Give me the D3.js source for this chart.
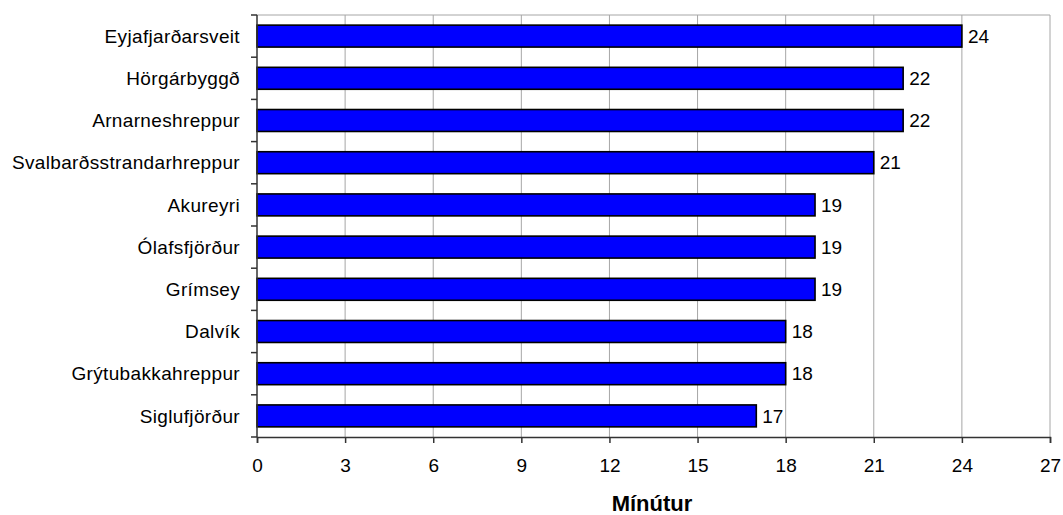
<!DOCTYPE html>
<html lang="is">
<head>
<meta charset="UTF-8">
<script src="https://d3js.org/d3.v7.min.js"></script>
<style>
  body { margin: 0; background: #fff; }
  svg { display: block; font-family: "Liberation Sans", Arial, sans-serif; }
</style>
</head>
<body>
<svg></svg>
<script>
const places = ["Eyjafjarðarsveit", "Hörgárbyggð", "Arnarneshreppur", "Svalbarðsstrandarhreppur",
                "Akureyri", "Ólafsfjörður", "Grímsey", "Dalvík", "Grýtubakkahreppur", "Siglufjörður"];
const minutes = [24, 22, 22, 21, 19, 19, 19, 18, 18, 17];
const xTicks = [0, 3, 6, 9, 12, 15, 18, 21, 24, 27];
const xTitle = "Mínútur";

const w = 1063, h = 515;
const plotL = 257, plotR = 1050, plotT = 15, plotB = 437;
const fontSize = "19px";

const svg = d3.select("svg").attr("width", w).attr("height", h);

const x = d3.scaleLinear().domain([0, 27]).range([plotL, plotR]);
const y = d3.scaleBand().domain(places).range([plotT, plotB]).paddingInner(0.48).paddingOuter(0.24);

// grid
svg.append("g")
   .selectAll("line")
   .data(xTicks.slice(1))
   .join("line")
   .attr("x1", d => x(d)).attr("x2", d => x(d))
   .attr("y1", plotT).attr("y2", plotB)
   .attr("stroke", "#a6a6a6").attr("stroke-width", 1);

// plot border top
svg.append("line")
   .attr("x1", plotL).attr("x2", plotR).attr("y1", plotT).attr("y2", plotT)
   .attr("stroke", "#a6a6a6");

// bars
svg.append("g")
   .selectAll("rect")
   .data(places)
   .join("rect")
   .attr("x", x(0))
   .attr("y", d => y(d))
   .attr("width", (d, i) => x(minutes[i]) - x(0))
   .attr("height", y.bandwidth())
   .attr("fill", "#0000ff")
   .attr("stroke", "#000")
   .attr("stroke-width", 1.6);

// value labels
svg.append("g")
   .selectAll("text")
   .data(places)
   .join("text")
   .attr("x", (d, i) => x(minutes[i]) + 6)
   .attr("y", d => y(d) + y.bandwidth() / 2)
   .attr("dy", "0.35em")
   .style("font-size", fontSize)
   .text((d, i) => minutes[i]);

// x axis
const xAxis = d3.axisBottom(x).tickValues(xTicks).tickSize(6).tickPadding(16);
const gx = svg.append("g")
   .attr("transform", "translate(0," + plotB + ")")
   .call(xAxis);
gx.select(".domain").attr("stroke", "#333").attr("stroke-width", 1.5);
gx.selectAll(".tick line").attr("stroke", "#333").attr("stroke-width", 1.5);
gx.selectAll(".tick text").style("font-size", fontSize).attr("fill", "#000")
  .style("font-family", "'Liberation Sans', Arial, sans-serif");

// y axis: ticks between categories
const gy = svg.append("g");
gy.append("line")
  .attr("x1", plotL).attr("x2", plotL).attr("y1", plotT).attr("y2", plotB)
  .attr("stroke", "#333").attr("stroke-width", 1.5);
const step = (plotB - plotT) / places.length;
gy.selectAll("line.t")
  .data(d3.range(places.length + 1))
  .join("line")
  .attr("class", "t")
  .attr("x1", plotL - 6).attr("x2", plotL)
  .attr("y1", i => plotT + i * step).attr("y2", i => plotT + i * step)
  .attr("stroke", "#333").attr("stroke-width", 1.5);
gy.selectAll("text")
  .data(places)
  .join("text")
  .attr("x", plotL - 17)
  .attr("y", d => y(d) + y.bandwidth() / 2)
  .attr("dy", "0.35em")
  .attr("text-anchor", "end")
  .style("font-size", fontSize)
  .style("letter-spacing", "0.35px")
  .text(d => d);

// axis title
svg.append("text")
   .attr("x", 652)
   .attr("y", 511)
   .attr("text-anchor", "middle")
   .style("font-size", "22px")
   .style("font-weight", "bold")
   .text(xTitle);
</script>
</body>
</html>
